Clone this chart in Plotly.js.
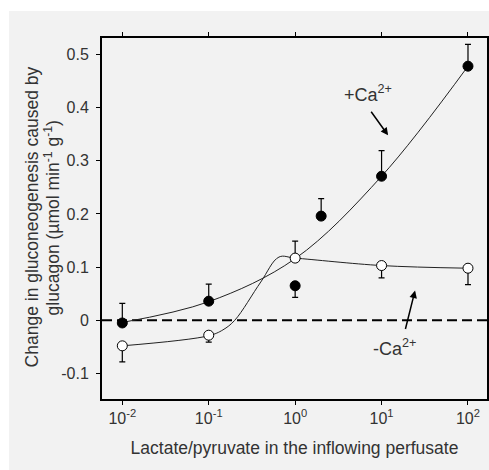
<!DOCTYPE html>
<html>
<head>
<meta charset="utf-8">
<script src="https://cdn.plot.ly/plotly-3.0.1.min.js"></script>
<style>
html,body{margin:0;padding:0;background:#ffffff;}
#chart{position:absolute;left:9px;top:11px;width:480px;height:459px;}
</style>
</head>
<body>
<div id="chart"></div>
<script>
// Lactate/pyruvate ratio (x) values
var ratioPlus = [0.01, 0.1, 1, 2, 10, 100];
var valuesPlus = [-0.005, 0.036, 0.065, 0.196, 0.271, 0.478];
var errUpPlus = [0.037, 0.032, 0, 0.033, 0.048, 0.041];
var errDownPlus = [0, 0, 0.022, 0, 0, 0];

var ratioMinus = [0.01, 0.1, 1, 10, 100];
var valuesMinus = [-0.048, -0.028, 0.117, 0.103, 0.098];
var errUpMinus = [0, 0, 0.032, 0, 0];
var errDownMinus = [0.030, 0.013, 0, 0.023, 0.031];

// fitted curves as drawn in the figure
var curvePlusX = [0.01, 0.1, 1, 10, 100];
var curvePlusY = [-0.004, 0.035, 0.116, 0.271, 0.478];
var curveMinusX = [0.01, 0.1, 0.146, 0.2, 0.4, 0.65, 1, 10, 100];
var curveMinusY = [-0.048, -0.029, -0.018, 0.0, 0.072, 0.119, 0.117, 0.103, 0.098];

var xTickVals = [0.01, 0.1, 1, 10, 100];
var xTickText = ['10<sup>-2</sup>', '10<sup>-1</sup>', '10<sup>0</sup>', '10<sup>1</sup>', '10<sup>2</sup>'];
var yTickVals = [-0.1, 0, 0.1, 0.2, 0.3, 0.4, 0.5];
var yTickText = ['-0.1', '0', '0.1', '0.2', '0.3', '0.4', '0.5'];
var yTitleLines = ['Change in gluconeogenesis caused by', 'glucagon (µmol min<sup>-1</sup> g<sup>-1</sup>)'];

var lineColor = '#222222';
var textColor = '#333333';
var fontFam = 'Liberation Sans, Arial, sans-serif';

var traces = [
  {x: curvePlusX, y: curvePlusY, mode: 'lines', line: {shape: 'spline', color: lineColor, width: 1}, hoverinfo: 'skip', showlegend: false},
  {x: curveMinusX, y: curveMinusY, mode: 'lines', line: {shape: 'spline', color: lineColor, width: 1}, hoverinfo: 'skip', showlegend: false},
  {x: ratioPlus, y: valuesPlus, mode: 'markers', showlegend: false,
   marker: {symbol: 'circle', size: 10, color: '#000000', line: {color: '#000000', width: 1}},
   error_y: {type: 'data', symmetric: false, array: errUpPlus, arrayminus: errDownPlus, color: '#000000', thickness: 1.2, width: 3}},
  {x: ratioMinus, y: valuesMinus, mode: 'markers', showlegend: false,
   marker: {symbol: 'circle', size: 10, color: '#ffffff', line: {color: '#000000', width: 1}},
   error_y: {type: 'data', symmetric: false, array: errUpMinus, arrayminus: errDownMinus, color: '#000000', thickness: 1.2, width: 3}}
];

var layout = {
  width: 480, height: 459,
  margin: {l: 93, r: 2, t: 27, b: 71},
  paper_bgcolor: '#f2f2f2',
  plot_bgcolor: '#f2f2f2',
  font: {family: fontFam, color: textColor, size: 16},
  xaxis: {
    type: 'log',
    range: [-2.235, 2.22],
    tickvals: xTickVals, ticktext: xTickText,
    ticks: 'outside', ticklen: 4, tickwidth: 1, tickcolor: '#000',
    showline: true, linecolor: '#000', linewidth: 2, mirror: 'ticks',
    showgrid: false, zeroline: false,
    tickfont: {size: 16, color: textColor},
    title: {text: 'Lactate/pyruvate in the inflowing perfusate', font: {size: 17.5, color: textColor}, standoff: 16}
  },
  yaxis: {
    range: [-0.148, 0.531],
    tickvals: yTickVals, ticktext: yTickText,
    ticks: 'outside', ticklen: 4, tickwidth: 1, tickcolor: '#000',
    ticklabelstandoff: 4,
    showline: true, linecolor: '#000', linewidth: 2, mirror: 'ticks',
    showgrid: false, zeroline: false,
    tickfont: {size: 16, color: textColor}
  },
  shapes: [
    {type: 'line', xref: 'paper', x0: 0, x1: 1, yref: 'y', y0: 0, y1: 0,
     line: {color: '#000', width: 2, dash: '10px,5px'}, layer: 'below'}
  ],
  annotations: [
    {x: -0.1818, y: 0.503, xref: 'paper', yref: 'paper', text: yTitleLines[0], textangle: -90, showarrow: false, xanchor: 'center', yanchor: 'middle', font: {size: 17.5, color: textColor}},
    {x: -0.1299, y: 0.503, xref: 'paper', yref: 'paper', text: yTitleLines[1], textangle: -90, showarrow: false, xanchor: 'center', yanchor: 'middle', font: {size: 17.5, color: textColor}},
    {x: Math.log10(6.98), y: 0.427, xref: 'x', yref: 'y', text: '+Ca<sup>2+</sup>', showarrow: false, font: {size: 18, color: textColor}},
    {x: Math.log10(11.9), y: 0.348, xref: 'x', yref: 'y', text: '', showarrow: true, ax: -18, ay: -25, arrowhead: 2, arrowsize: 1, arrowwidth: 1.5, arrowcolor: '#000'},
    {x: Math.log10(14.3), y: -0.051, xref: 'x', yref: 'y', text: '-Ca<sup>2+</sup>', showarrow: false, font: {size: 18, color: textColor}},
    {x: Math.log10(24.4), y: 0.056, xref: 'x', yref: 'y', text: '', showarrow: true, ax: -10, ay: 40, arrowhead: 2, arrowsize: 1, arrowwidth: 1.5, arrowcolor: '#000'}
  ]
};

Plotly.newPlot('chart', traces, layout, {displayModeBar: false, staticPlot: true});
</script>
</body>
</html>
